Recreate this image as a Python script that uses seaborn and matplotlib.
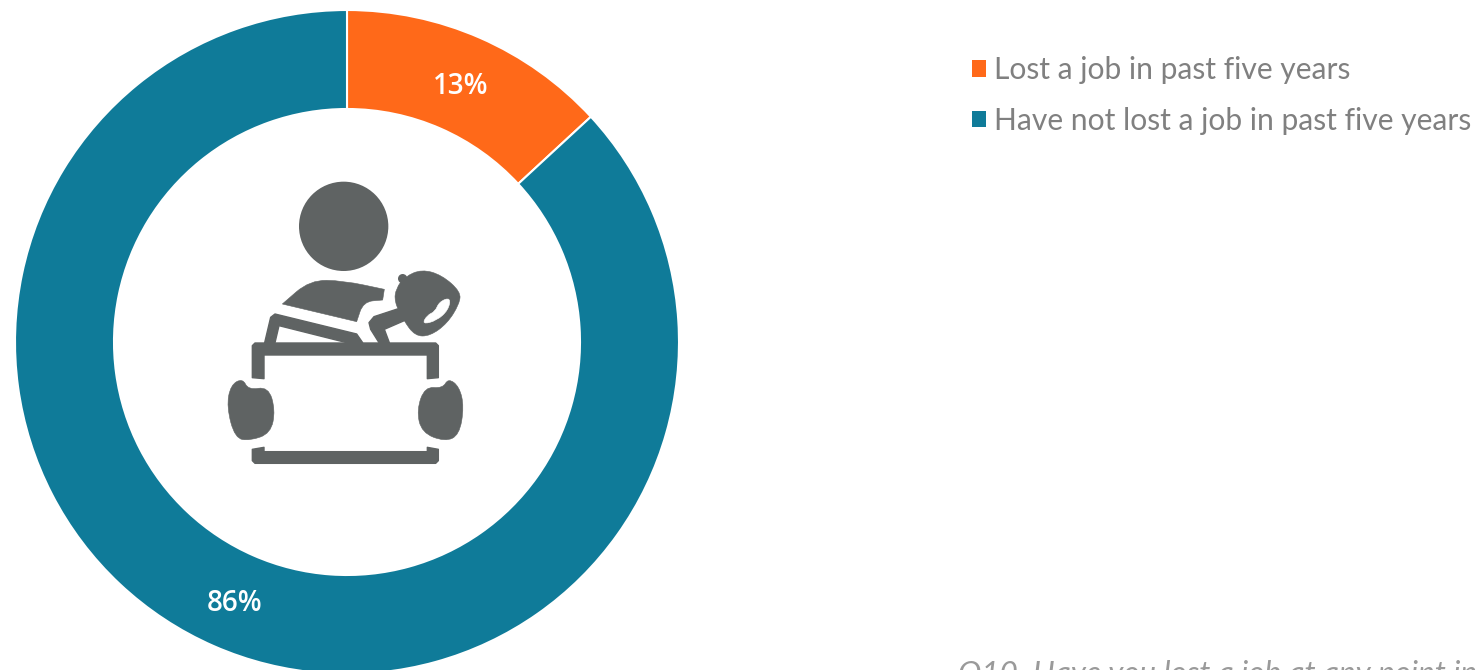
import matplotlib
matplotlib.use("Agg")
import matplotlib.pyplot as plt
from matplotlib.patches import Circle, Patch, PathPatch
from matplotlib.path import Path
import seaborn as sns

categories = ["Lost a job in past five years", "Have not lost a job in past five years"]
values = [13, 86]
colors = ["#FF6919", "#0F7B99"]
footnote = "Q10. Have you lost a job at any point in"

sns.set_theme(style="white")
plt.rcParams["font.family"] = ["Lato", "DejaVu Sans"]
palette = sns.color_palette(colors)

W, H = 1481, 670
fig = plt.figure(figsize=(W / 100, H / 100), dpi=100, facecolor="white")

# donut
cx, cy, r = 347, 342, 332
ax = fig.add_axes([(cx - r) / W, (H - cy - r) / H, 2 * r / W, 2 * r / H])
wedges, _, pcts = ax.pie(
    values, colors=palette, startangle=90, counterclock=False, radius=1,
    wedgeprops=dict(width=1 - 233 / 332, edgecolor="white", linewidth=1.5),
    autopct=lambda p: f"{round(p * sum(values) / 100)}%", pctdistance=0.85,
)
for t in pcts:
    t.set(color="white", fontsize=20, fontweight="semibold", family=["Open Sans", "DejaVu Sans"],
          fontstretch="condensed")
    t.set_y(t.get_position()[1] - 0.008)
    t.set_x(t.get_position()[0] + 0.002)
ax.set_xlim(-1, 1)
ax.set_ylim(-1, 1)
ax.axis("off")

# overlay in pixel space for the icon and text
ov = fig.add_axes([0, 0, 1, 1], zorder=5)
ov.set_xlim(0, W)
ov.set_ylim(H, 0)
ov.axis("off")

ICON = "#5F6363"


def z(pts):
    return [(200 + x / 3, 160 + y / 3) for x, y in pts]


def poly(pts, fc=ICON):
    ov.fill(*zip(*z(pts)), facecolor=fc, edgecolor=fc, linewidth=1.0, joinstyle="round")


def blob(pts, fc=ICON):
    p = z(pts)
    n = len(p)
    mid = lambda a, b: ((a[0] + b[0]) / 2, (a[1] + b[1]) / 2)
    verts = [mid(p[-1], p[0])]
    codes = [Path.MOVETO]
    for i in range(n):
        verts += [p[i], mid(p[i], p[(i + 1) % n])]
        codes += [Path.CURVE3, Path.CURVE3]
    ov.add_patch(PathPatch(Path(verts, codes), facecolor=fc, edgecolor=fc, linewidth=0.4))


ov.add_patch(Circle((200 + 431 / 3, 160 + 199 / 3), 134 / 3, facecolor=ICON, edgecolor="none"))
# shoulders
blob([(247, 432), (247, 432), (330, 360), (430, 362), (553, 388), (553, 388), (548, 420), (548, 420),
      (490, 425), (470, 485), (470, 485)])
# forearm
poly([(194, 548), (212, 472), (225, 462), (470, 522), (488, 548), (440, 548), (237, 497), (225, 548)])
# raised hand: wrist and rounded palm
poly([(592, 447), (522, 470), (507, 488), (512, 508), (537, 548), (568, 548), (553, 508), (622, 478)])
blob([(583, 425), (588, 385), (615, 350), (665, 328), (725, 345), (782, 395), (778, 432),
      (742, 490), (690, 528), (645, 528), (610, 480)])
ov.add_patch(Circle((200 + 608 / 3, 160 + 356 / 3), 14 / 3, facecolor=ICON, edgecolor="none"))
blob([(666, 493), (682, 465), (705, 455), (718, 425), (752, 412), (745, 450), (710, 482)], fc="white")
# laptop frame
poly([(157, 557), (165, 549), (707, 549), (715, 557), (715, 653), (682, 656), (682, 585),
      (192, 585), (192, 656), (157, 653)])
poly([(157, 868), (192, 862), (192, 875), (682, 875), (682, 862), (715, 868), (715, 902),
      (707, 910), (165, 910), (157, 902)])
# hands
blob([(128, 655), (145, 690), (205, 680), (226, 750), (212, 820), (150, 842), (105, 835),
      (80, 740), (92, 675)])
blob([(745, 655), (728, 685), (675, 680), (650, 750), (665, 818), (735, 845), (778, 825),
      (792, 740), (778, 680)])

# legend
handles = [Patch(facecolor=c, edgecolor="none", label=l) for c, l in zip(palette, categories)]
leg = fig.legend(
    handles=handles, loc="upper left", bbox_to_anchor=(972 / W, 1 - 56 / H),
    frameon=False, fontsize=21.6, labelcolor="#808080", borderpad=0, borderaxespad=0,
    handlelength=0.47, handleheight=0.47, handletextpad=0.27, labelspacing=0.76,
)

ov.text(958, 660, footnote, fontsize=22.6, style="italic", color="#9A9A9A",
        va="top", ha="left", clip_on=False)

fig.savefig("out.png", dpi=100, facecolor="white")
